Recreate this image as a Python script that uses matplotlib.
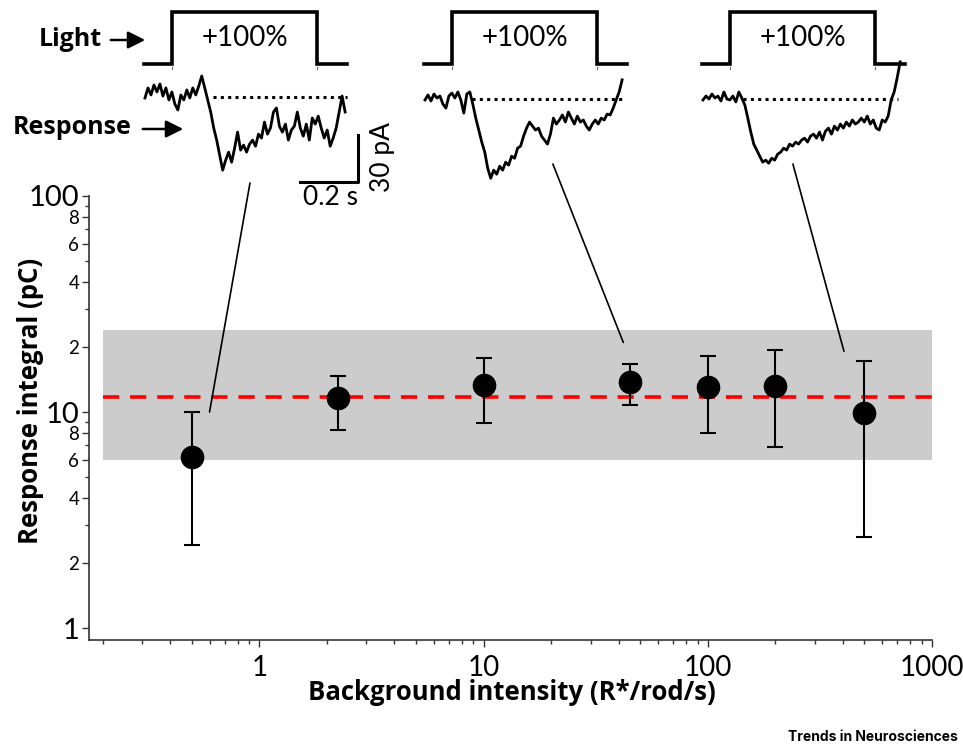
import numpy as np
import matplotlib
matplotlib.use("Agg")
import matplotlib.pyplot as plt
from matplotlib.patches import ConnectionPatch, FancyArrowPatch

plt.rcParams['font.family'] = ['Lato', 'DejaVu Sans']
BOLD = ['Open Sans', 'DejaVu Sans']

# background intensity (R*/rod/s) and response integral (pC)
intensity = [0.5, 2.25, 10, 45, 100, 200, 500]
integral = [6.2, 11.6, 13.3, 13.8, 13.0, 13.2, 9.9]
err_low = [2.42, 8.25, 8.9, 10.8, 8.0, 6.9, 2.64]
err_high = [10.0, 14.7, 17.8, 16.7, 18.2, 19.4, 17.2]

mean_level = 11.7
band_low, band_high = 6.0, 24.0
band_x = [0.2, 1000]

# example responses to a +100% step (pA, sampled every ~10 ms)
dt = 0.0103
trace_dim = [-0.6, 5.8, 1.3, 7.7, 3.2, 8.3, 0.6, 5.8, -1.9, 3.2, -4.5, -8.3, 1.3, -1.9,
             4.5, -0.6, 5.8, 1.3, 7.0, 13.4, 5.8, -1.9, -9.6, -19.8, -27.5, -37.1, -46.7,
             -40.3, -35.2, -41.6, -32.6, -22.4, -33.9, -30.7, -35.2, -30.1, -27.5, -31.4,
             -23.7, -26.2, -16.0, -23.7, -19.8, -9.6, -7.0, -18.6, -22.4, -17.3, -27.5,
             -21.1, -18.6, -9.6, -19.8, -25.0, -17.3, -27.5, -13.4, -17.3, -12.2, -19.8,
             -26.2, -21.1, -31.4, -26.2, -19.8, -9.6, 0.6, -9.6]
trace_mid = [-0.6, 2.6, -1.3, 3.2, 0.6, 1.9, -3.2, -5.8, 1.9, 3.8, 0.6, 4.5, -0.6, -9.0,
             3.2, 4.5, -3.2, -12.2, -19.8, -27.5, -33.9, -44.2, -50.6, -45.4, -48.0, -42.9,
             -45.4, -40.3, -42.2, -36.5, -37.8, -31.4, -30.1, -23.7, -18.6, -14.7, -17.3,
             -19.8, -18.6, -23.7, -26.2, -28.8, -22.4, -12.2, -16.0, -13.4, -10.2, -14.7,
             -8.3, -12.2, -16.0, -10.9, -14.7, -13.4, -17.3, -19.8, -16.0, -13.4, -16.0,
             -12.2, -13.4, -9.6, -10.2, -5.8, -0.6, 4.5, 12.2]
trace_bright = [-0.6, 1.9, 0.0, 3.2, 0.6, 1.9, -1.3, 4.5, 0.0, -0.6, 1.9, -1.9, 4.5, 0.6,
                -3.8, -12.2, -21.1, -28.8, -32.6, -36.5, -40.3, -39.0, -41.0, -37.8, -39.0,
                -35.2, -33.9, -31.4, -32.6, -28.8, -30.1, -27.5, -28.8, -26.2, -25.0, -27.5,
                -23.7, -22.4, -25.0, -21.1, -26.2, -20.5, -18.6, -22.4, -17.3, -19.8, -16.0,
                -18.6, -14.7, -17.3, -13.4, -16.0, -14.7, -12.2, -14.7, -10.9, -16.0, -13.4,
                -18.6, -19.8, -13.4, -14.7, -10.9, -0.6, 4.5, 13.4, 23.7]
traces = [trace_dim, trace_mid, trace_bright]

# light step (s)
stim_t = [-0.005, 0.092, 0.092, 0.594, 0.594, 0.695]
stim_level = [0, 0, 1, 1, 0, 0]
baseline_start = [0.234, 0.162, 0.138]
baseline_end = [0.697, 0.679, 0.672]

W, H = 963, 747
fig = plt.figure(figsize=(W / 100, H / 100), dpi=100)


def px_axes(left, top, right, bottom):
    a = fig.add_axes([left / W, 1 - bottom / H, (right - left) / W, (bottom - top) / H])
    a.axis('off')
    return a


# main plot
ax = fig.add_axes([89 / W, 1 - 640 / H, 843 / W, 444 / H])
ax.set_xscale('log')
ax.set_yscale('log')
ax.set_xlim(0.174, 1000)
ax.set_ylim(0.88, 100)

ax.fill_between(band_x, band_low, band_high, color='#cccccc', lw=0, zorder=1)
ax.plot(band_x, [mean_level, mean_level], color='#ff0000', lw=2.6, dashes=(4.5, 3), zorder=2)
yerr = [np.array(integral) - np.array(err_low), np.array(err_high) - np.array(integral)]
ax.errorbar(intensity, integral, yerr=yerr, fmt='o', color='black', ms=16,
            elinewidth=1.5, capsize=6, capthick=1.5, zorder=3)

for s in ['top', 'right']:
    ax.spines[s].set_visible(False)
for s in ['left', 'bottom']:
    ax.spines[s].set_color('#333333')
    ax.spines[s].set_linewidth(1.2)

ax.set_xticks([1, 10, 100, 1000])
ax.set_xticklabels(['1', '10', '100', '1000'], fontsize=20)
ax.set_xticks([v * d for d in [0.1, 1, 10, 100] for v in range(2, 10)], minor=True)
ax.set_xticklabels([], minor=True)

yt = [1, 2, 4, 6, 8, 10, 20, 40, 60, 80, 100]
ylabels = ['1', '2', '4', '6', '8', '10', '2', '4', '6', '8', '100']
ax.set_yticks(yt)
ax.set_yticklabels(ylabels)
for lab, v in zip(ax.get_yticklabels(), yt):
    lab.set_fontsize(21 if v in (1, 10, 100) else 13.5)
ax.set_yticks([3, 5, 7, 9, 30, 50, 70, 90], minor=True)
ax.set_yticklabels([], minor=True)
ax.tick_params(which='major', length=5, width=1, color='#333333', pad=2)
ax.tick_params(which='minor', length=3, width=1, color='#333333')
ax.tick_params(axis='x', which='major', pad=6)

ax.set_xlabel('Background intensity (R*/rod/s)', fontsize=18.5, fontweight='bold',
              family=BOLD)
ax.xaxis.set_label_coords((512 - 89) / 843, -(679 - 640) / 444)
ax.set_ylabel('Response integral (pC)', fontsize=18.5, fontweight='bold', family=BOLD)
ax.yaxis.set_label_coords((44 - 89) / 843, (640 - 401) / 444)

# insets
origins = [(145, 97), (425, 99), (703, 99)]
px_per_s = 290.0
px_per_pA = 1.567
trace_axes = []
for i, (x0, y0) in enumerate(origins):
    sa = px_axes(x0 - 15, 5, x0 + 220, 72)
    sa.set_xlim(-15 / px_per_s, 220 / px_per_s)
    sa.set_ylim(-8 / 52, 1 + 7 / 52)
    sa.plot(stim_t, stim_level, color='black', lw=2.6, solid_joinstyle='miter')
    for tt in [stim_t[1], stim_t[3]]:
        sa.plot([tt, tt], [-0.1, -0.06], color='#666666', lw=0.8, clip_on=False)
    sa.text(0.343, 0.5, '+100%', ha='center', va='center', fontsize=20)

    ta = px_axes(x0 - 15, 70, x0 + 220, 190)
    ta.set_xlim(-15 / px_per_s, 220 / px_per_s)
    ta.set_ylim((y0 - 190) / px_per_pA, (y0 - 70) / px_per_pA)
    t = np.arange(len(traces[i])) * dt
    ta.plot(t, traces[i], color='black', lw=2.0, clip_on=False)
    ta.plot([baseline_start[i], baseline_end[i]], [0, 0], color='black', lw=2.2, ls=(0, (1, 1.4)))
    trace_axes.append(ta)

# scale bar on first inset
ta = trace_axes[0]
ta.plot([0.534, 0.734, 0.734], [-54.2, -54.2, -24.2], color='black', lw=2.2, clip_on=False)
ta.text(0.638, -56, '0.2 s', ha='center', va='top', fontsize=19)
ta.text(0.82, -38, '30 pA', ha='center', va='center', rotation=90, fontsize=19)

# labels with arrows
fig.text(70 / W, 1 - 39 / H, 'Light', ha='center', va='center', fontsize=18,
         fontweight='bold', family=BOLD)
fig.text(72 / W, 1 - 128 / H, 'Response', ha='center', va='center', fontsize=18,
         fontweight='bold', family=BOLD)
for (xa, xb, yy) in [(108, 148, 40), (140, 186, 129)]:
    fig.add_artist(FancyArrowPatch(
        (xa / W, 1 - yy / H), (xb / W, 1 - yy / H), transform=fig.transFigure,
        arrowstyle='-|>', mutation_scale=26, lw=1.8, color='black'))

# connectors from traces to data
links = [((0.362, -54.9), (0.6, 10.0)), ((0.441, -41.5), (42, 21)), ((0.310, -41.5), (405, 19.1))]
for ta, (pa, pb) in zip(trace_axes, links):
    con = ConnectionPatch(xyA=pa, coordsA=ta.transData, xyB=pb, coordsB=ax.transData,
                          color='black', lw=1.2, zorder=5)
    fig.add_artist(con)

fig.text(958 / W, 1 - 737 / H, 'Trends in Neurosciences', ha='right', va='center',
         fontsize=10, fontweight='bold', family=['Inter', 'DejaVu Sans'])

fig.savefig('out.png', dpi=100)
